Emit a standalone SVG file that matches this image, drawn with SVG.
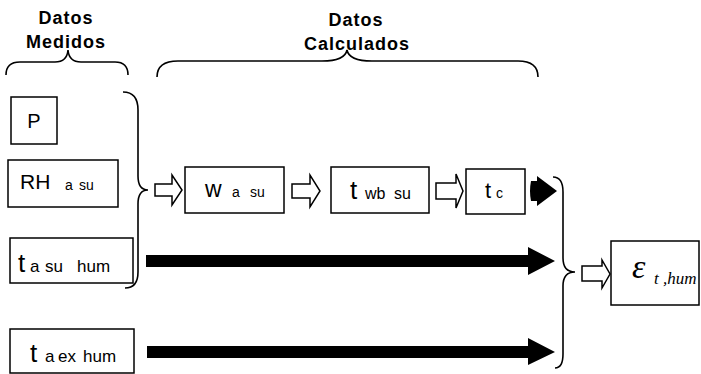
<svg xmlns="http://www.w3.org/2000/svg" width="701" height="374" viewBox="0 0 701 374">
<style>
.box{fill:#fff;stroke:#000;stroke-width:1.5}
.br{fill:none;stroke:#000;stroke-width:1.6}
.ho{fill:#fff;stroke:#000;stroke-width:1.5;stroke-linejoin:miter}
.bk{fill:#000;stroke:none}
.t{font-family:"Liberation Sans",Arial,sans-serif;fill:#000}
.ttl{font-family:"Liberation Sans",Arial,sans-serif;font-weight:bold;font-size:18px;letter-spacing:1px;text-anchor:middle}
.eps{font-family:"Liberation Serif","Times New Roman",serif;font-style:italic;fill:#000}
</style>
<rect width="701" height="374" fill="#fff"/>
<g id="titles">
<text class="ttl" x="66" y="24">Datos</text>
<text class="ttl" x="66" y="48">Medidos</text>
<text class="ttl" x="356" y="26">Datos</text>
<text class="ttl" x="357" y="50">Calculados</text>
</g>
<g id="braces">
<path class="br" d="M6,75 Q6,62 20,62 L55,62 Q67,62 68,50 Q69,62 81,62 L115,62 Q128,62 128,75"/>
<path class="br" d="M157,77 Q157,61 178,61 L322,61 Q345,61 347,50 Q349,61 372,61 L518,61 Q538,61 538,77"/>
<path class="br" d="M123,92 Q138,92 138,110 L138,176 Q138,190 148,190 Q138,190 138,204 L138,272 Q138,288 125,288"/>
<path class="br" d="M553,177 Q563,177 563,192 L563,258 Q563,272 575,272 Q563,272 563,286 L563,354 Q563,368 555,368"/>
</g>
<g id="node-P">
<rect class="box" x="11" y="97" width="46" height="47"/>
<text class="t" x="34" y="128" font-size="20" text-anchor="middle">P</text>
</g>
<g id="node-RH">
<rect class="box" x="8" y="160" width="110" height="47"/>
<text class="t" font-size="21" x="20" y="189">RH<tspan x="65" y="190" font-size="14">a</tspan><tspan x="79" font-size="14">su</tspan></text>
</g>
<g id="node-tasuhum">
<rect class="box" x="10" y="238" width="123" height="45"/>
<text class="t" font-size="26" x="18" y="272">t<tspan x="30" font-size="17">a</tspan><tspan x="45" font-size="17">su</tspan><tspan x="77" font-size="17">hum</tspan></text>
</g>
<g id="node-taexhum">
<rect class="box" x="10" y="329" width="124" height="44"/>
<text class="t" font-size="26" x="30" y="362">t<tspan x="45" font-size="17">a</tspan><tspan x="58" font-size="17">ex</tspan><tspan x="83" font-size="17">hum</tspan></text>
</g>
<g id="node-wasu">
<rect class="box" x="185" y="167" width="99" height="46"/>
<text class="t" font-size="23" x="205" y="197">w<tspan x="232" font-size="14">a</tspan><tspan x="250" font-size="14">su</tspan></text>
</g>
<g id="node-twbsu">
<rect class="box" x="331" y="167" width="98" height="46"/>
<text class="t" font-size="26" x="350" y="199">t<tspan x="365" font-size="16">wb</tspan><tspan x="394" font-size="16">su</tspan></text>
</g>
<g id="node-tc">
<rect class="box" x="466" y="169" width="59" height="45"/>
<text class="t" font-size="22" x="485" y="198">t<tspan x="496" font-size="14">c</tspan></text>
</g>
<g id="node-eps">
<rect class="box" x="611" y="241" width="88" height="64"/>
<text class="eps" font-size="34" x="632" y="278">ε<tspan x="654" y="284" font-size="17">t ,hum</tspan></text>
</g>
<g id="connectors">
<polygon class="ho" points="155,184 172,184 172,175 182,190 172,205 172,196 155,196"/>
<polygon class="ho" points="292,184 310,184 310,175 320,191 310,207 310,198 292,198"/>
<polygon class="ho" points="436,183 456,183 456,174 463,191 456,208 456,199 436,199"/>
<polygon class="ho" points="582,266 602,266 602,260 610,274 602,288 602,281 582,281"/>
<path class="bk" d="M531,181 Q529,191 531,201 L537,201 L537,206 L557,191 L537,176 L537,181 Z"/>
<polygon class="bk" points="146,255 528,255 528,247 555,261 528,275 528,267 146,267"/>
<polygon class="bk" points="147,346 528,346 528,338 555,352 528,365 528,358 147,358"/>
</g>
</svg>
